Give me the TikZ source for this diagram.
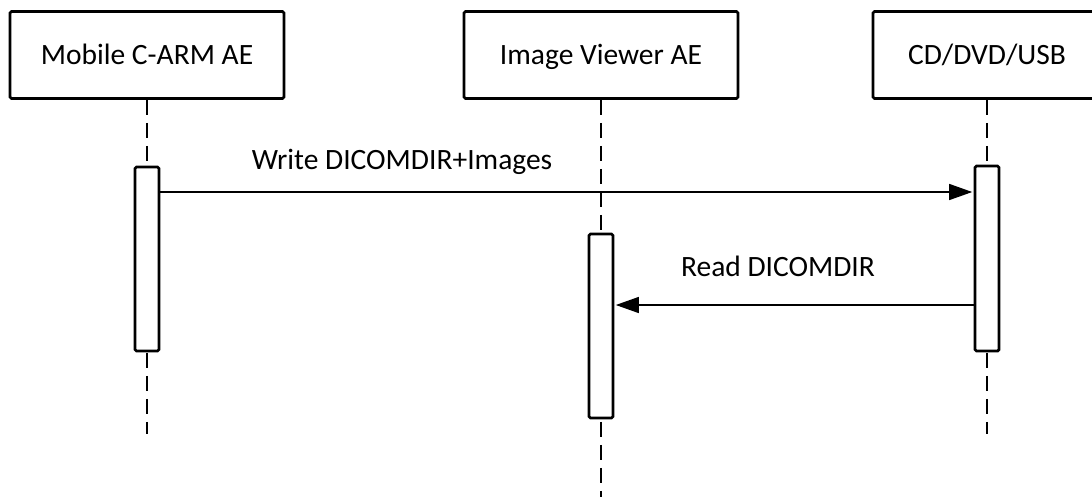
\documentclass[tikz,border=0pt]{standalone}
\usepackage{fontspec}
\setmainfont{Carlito}
\usetikzlibrary{arrows.meta}
\begin{document}
\begin{tikzpicture}[x=1pt,y=-1pt,
  actor/.style={draw, line width=2.8pt, rounded corners=1.5pt, minimum height=87pt,
    inner sep=0pt, text height=19pt, text depth=0pt, font=\fontsize{29.5}{35}\selectfont},
  act/.style={draw, fill=white, line width=2.8pt, rounded corners=1.5pt, minimum width=24pt, inner sep=0pt},
  life/.style={line width=1.5pt, dash pattern=on 15pt off 8pt},
  msg/.style={line width=1.3pt, -{Triangle[length=23pt,width=16pt]}, shorten >=1.4pt},
  lbl/.style={font=\fontsize{29.5}{35}\selectfont, inner sep=0pt, anchor=base}
]
\useasboundingbox (0,0) rectangle (1092,496);
% actors
\node[actor, minimum width=274pt] (p1) at (147,55) {Mobile C-ARM AE};
\node[actor, minimum width=274pt] (p2) at (601,55) {Image Viewer AE};
\node[actor, minimum width=228pt] (p3) at (987,55) {CD/DVD/USB};
% lifeline ends
\coordinate (e1) at (147,434);
\coordinate (e2) at (601,500);
\coordinate (e3) at (987,434);
\draw[life] (p1.south) -- (e1);
\draw[life] (p2.south) -- (e2);
\draw[life] (p3.south) -- (e3);
% activations
\node[act, minimum height=184pt] (a1) at (147,259) {};
\node[act, minimum height=184pt] (a2) at (601,326) {};
\node[act, minimum height=185pt] (a3) at (987,258.5) {};
% messages
\coordinate (m1) at (0,192);
\coordinate (m2) at (0,305);
\draw[msg] (a1.east |- m1) -- (a3.west |- m1);
\draw[msg] (a3.west |- m2) -- (a2.east |- m2);
\node[lbl] (l1) at (402,169) {Write DICOMDIR+Images};
\node[lbl] (l2) at (778,276) {Read DICOMDIR};
\end{tikzpicture}
\end{document}
